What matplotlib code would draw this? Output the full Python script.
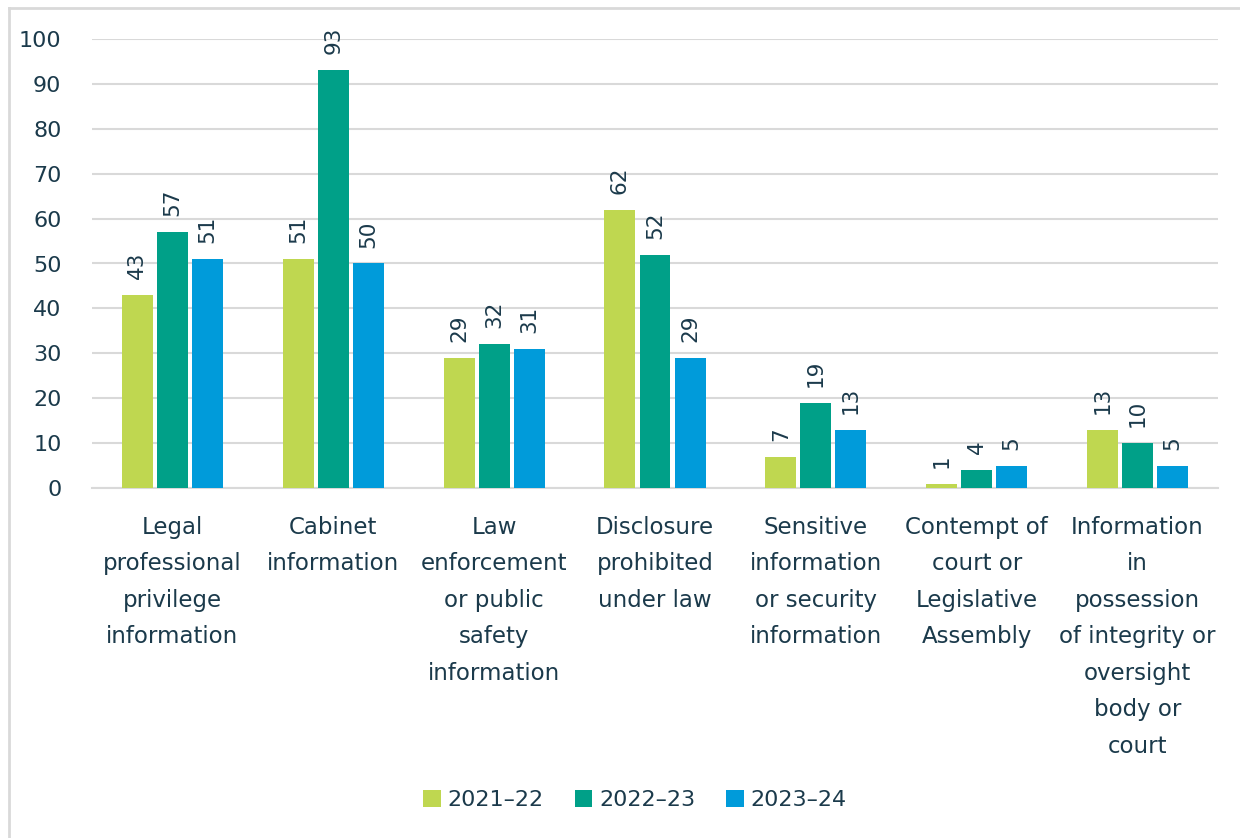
import matplotlib
matplotlib.use("Agg")
import matplotlib.pyplot as plt
import numpy as np
from matplotlib.lines import Line2D

categories = [
    "Legal\nprofessional\nprivilege\ninformation",
    "Cabinet\ninformation",
    "Law\nenforcement\nor public\nsafety\ninformation",
    "Disclosure\nprohibited\nunder law",
    "Sensitive\ninformation\nor security\ninformation",
    "Contempt of\ncourt or\nLegislative\nAssembly",
    "Information\nin\npossession\nof integrity or\noversight\nbody or\ncourt",
]
series_names = ["2021\u201322", "2022\u201323", "2023\u201324"]
v2021 = [43, 51, 29, 62, 7, 1, 13]
v2022 = [57, 93, 32, 52, 19, 4, 10]
v2023 = [51, 50, 31, 29, 13, 5, 5]
colors = ["#BFD750", "#00A088", "#009BDA"]
yticks = [0, 10, 20, 30, 40, 50, 60, 70, 80, 90, 100]

txt = "#1B3A4B"
plt.rcParams['font.family'] = ['DejaVu Sans']

fig = plt.figure(figsize=(12.4, 8.38), dpi=100)
ax = fig.add_axes([92/1240, 1-488/838, (1218-92)/1240, (488-39)/838])

x = np.arange(len(categories))
step = 0.218
width = 0.192
for i, (vals, name, c) in enumerate(zip([v2021, v2022, v2023], series_names, colors)):
    bars = ax.bar(x + (i-1)*step, vals, width=width, color=c, label=name, zorder=3)
    for b, v in zip(bars, vals):
        ax.annotate(str(v), (b.get_x()+b.get_width()/2, b.get_height()),
                    xytext=(0, 11.5), textcoords='offset points', rotation=90,
                    ha='center', va='bottom', fontsize=15.5, color=txt)

ax.set_xlim(-0.5, len(categories)-0.5)
ax.set_ylim(0, 100)
ax.set_yticks(yticks)
ax.set_yticklabels([str(t) for t in yticks], fontsize=16, color=txt)
ax.yaxis.grid(True, color="#D9D9D9", linewidth=1.5, zorder=0)
ax.set_axisbelow(True)
for s in ['top', 'right', 'left']:
    ax.spines[s].set_visible(False)
ax.spines['bottom'].set_color("#D9D9D9")
ax.spines['bottom'].set_linewidth(1.5)
ax.tick_params(axis='y', length=0, pad=22)
ax.tick_params(axis='x', length=0, pad=20)
ax.set_xticks(x)
ax.set_xticklabels(categories, fontsize=16.5, color=txt, linespacing=1.75, va='top', ha='center')

leg = fig.legend(loc='center', bbox_to_anchor=(635/1240, 1-800/838), ncol=3, frameon=False,
                 fontsize=16, handlelength=0.8, handleheight=0.8, handletextpad=0.3,
                 columnspacing=1.4, labelcolor=txt)

# light border on left and top only (chart frame continues beyond the image)
fig.add_artist(Line2D([9/1240, 9/1240], [0, 1-8/838], transform=fig.transFigure,
                      color="#D9D9D9", linewidth=2))
fig.add_artist(Line2D([9/1240, 1], [1-8/838, 1-8/838], transform=fig.transFigure,
                      color="#D9D9D9", linewidth=2))

fig.savefig("out.png", dpi=100)
